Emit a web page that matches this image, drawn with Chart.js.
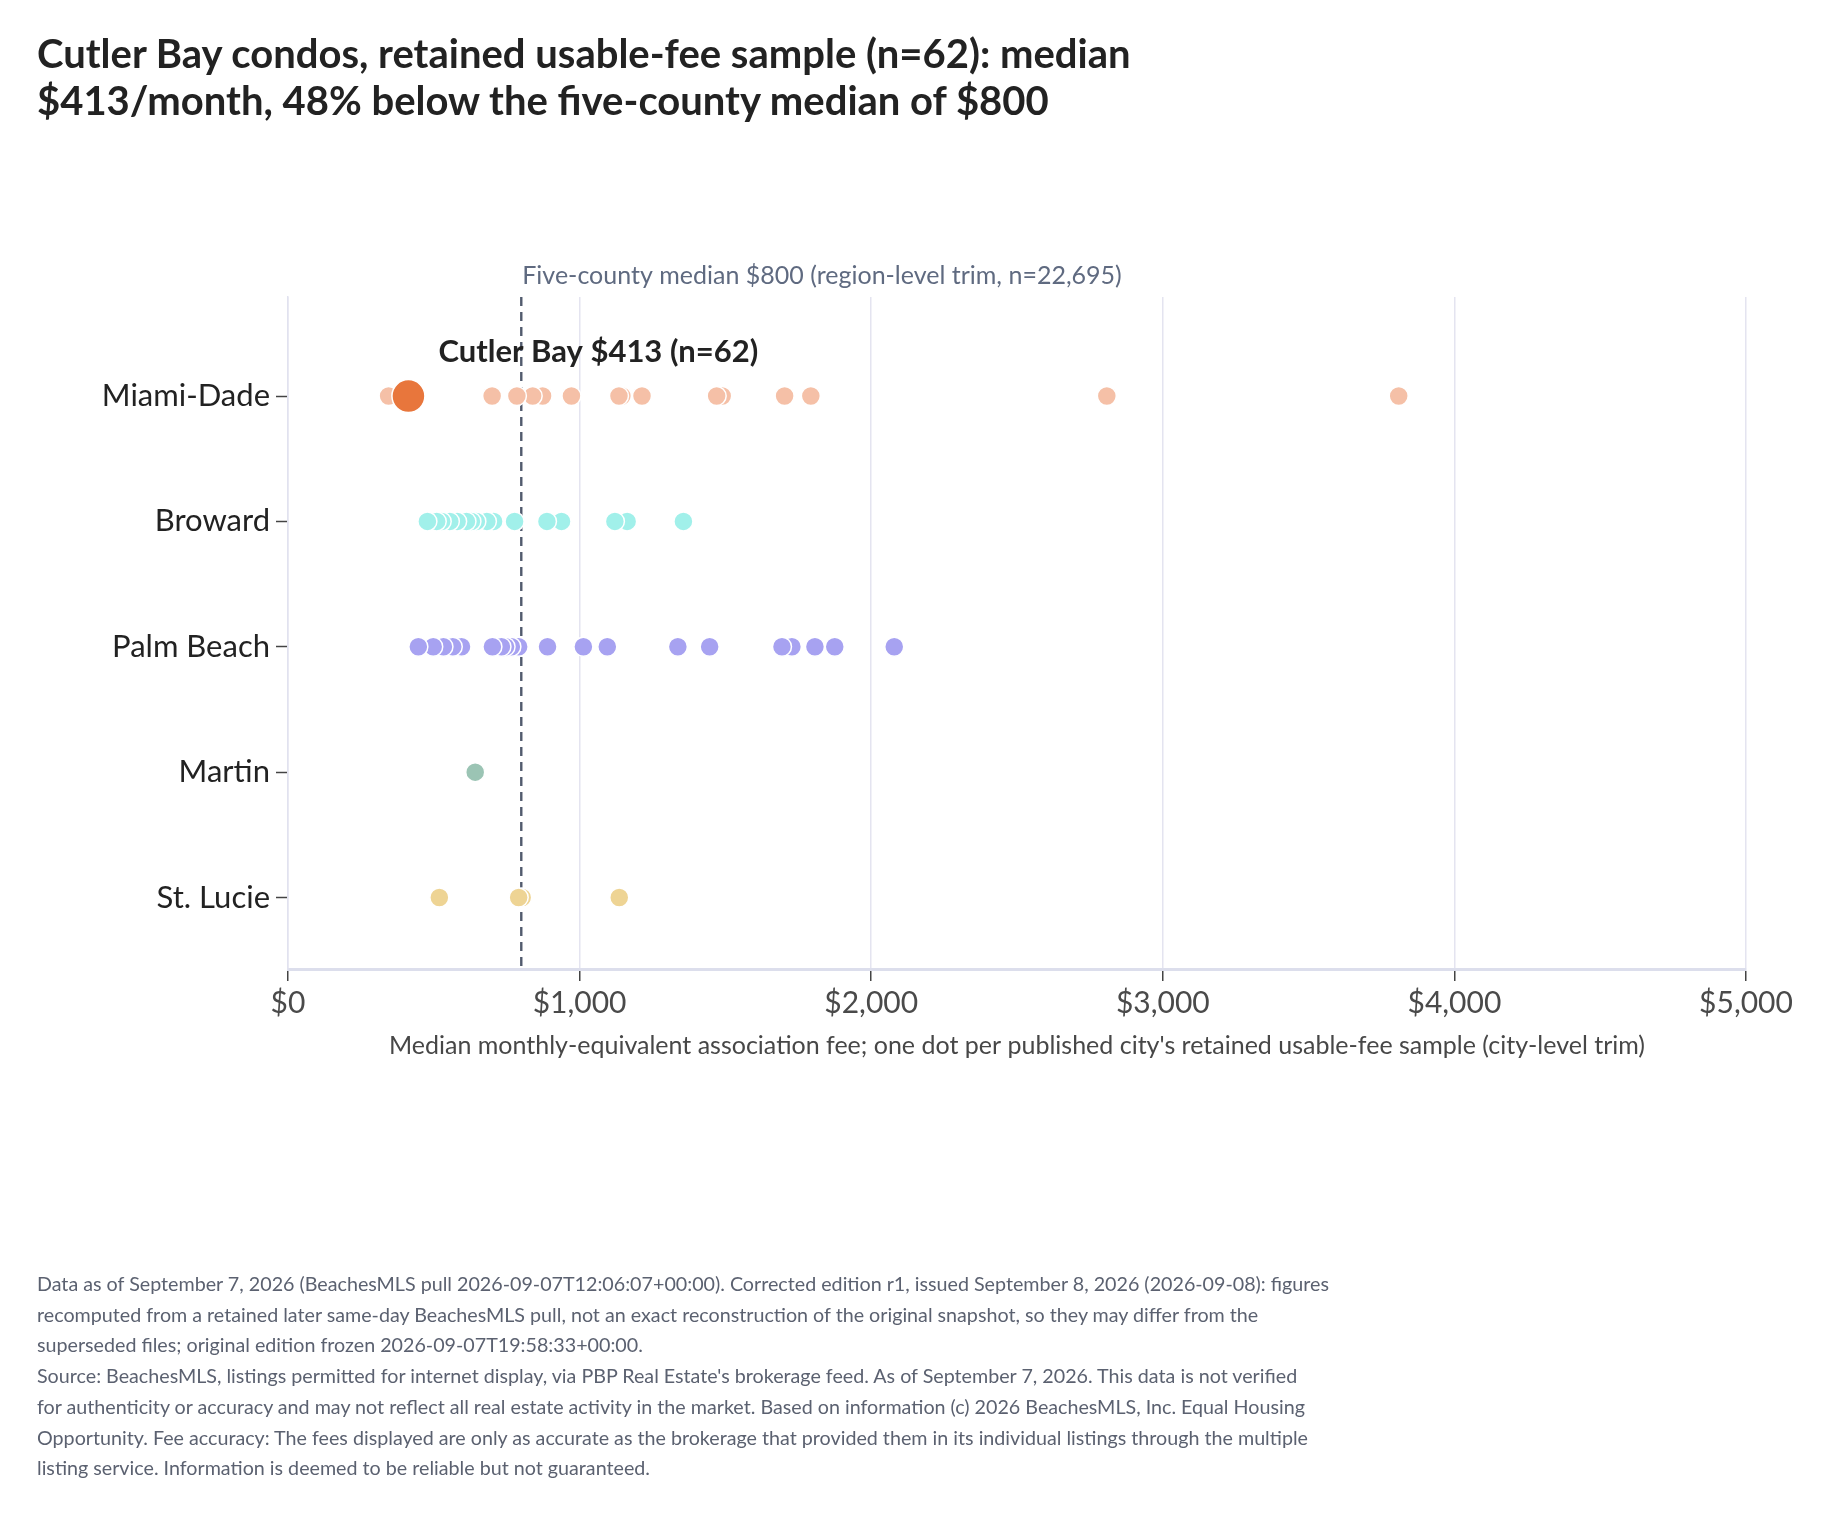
<!DOCTYPE html>
<html>
<head>
<meta charset="utf-8">
<script src="https://cdn.jsdelivr.net/npm/chart.js@4.4.1/dist/chart.umd.min.js"></script>
<style>
  html, body { margin: 0; padding: 0; background: #fff; }
  body { width: 1830px; height: 1517px; position: relative; overflow: hidden; font-family: Lato, 'Noto Sans', sans-serif; }
  #wrap { position: absolute; left: 0; top: 0; width: 1830px; height: 1517px; }
  #title { position: absolute; left: 37px; top: 30px; font-size: 40px; line-height: 47px; font-weight: 700; color: #222; white-space: nowrap; }
  #footer { position: absolute; left: 37px; top: 1269px; font-size: 19.7px; line-height: 30.7px; color: #5b6170; white-space: nowrap; }
</style>
</head>
<body>
<div id="wrap"><canvas id="chart" width="1830" height="1517"></canvas></div>
<div id="title">Cutler Bay condos, retained usable-fee sample (n=62): median<br>$413/month, 48% below the five-county median of $800</div>
<div id="footer">
Data as of September 7, 2026 (BeachesMLS pull 2026-09-07T12:06:07+00:00). Corrected edition r1, issued September 8, 2026 (2026-09-08): figures<br>
recomputed from a retained later same-day BeachesMLS pull, not an exact reconstruction of the original snapshot, so they may differ from the<br>
superseded files; original edition frozen 2026-09-07T19:58:33+00:00.<br>
Source: BeachesMLS, listings permitted for internet display, via PBP Real Estate's brokerage feed. As of September 7, 2026. This data is not verified<br>
for authenticity or accuracy and may not reflect all real estate activity in the market. Based on information (c) 2026 BeachesMLS, Inc. Equal Housing<br>
Opportunity. Fee accuracy: The fees displayed are only as accurate as the brokerage that provided them in its individual listings through the multiple<br>
listing service. Information is deemed to be reliable but not guaranteed.
</div>
<script>
// counties, top to bottom
const counties = ['Miami-Dade', 'Broward', 'Palm Beach', 'Martin', 'St. Lucie'];

// one value per published city (median monthly fee, $)
const miamiDade = [345, 413, 700, 785, 839, 873, 972, 1135, 1145, 1214, 1470, 1489, 1703, 1793, 2808, 3809];
const broward = [478, 510, 527, 555, 580, 612, 629, 646, 682, 705, 777, 888, 938, 1121, 1163, 1356];
const palmBeach = [447, 498, 533, 565, 595, 701, 732, 746, 766, 791, 890, 1013, 1095, 1337, 1446, 1694, 1728, 1807, 1875, 2079];
const martin = [642];
const stLucie = [519, 791, 803, 1136];

const countyColors = ['#f5c0a7', '#a1f0ea', '#a7a2f1', '#9bc4b4', '#eed494'];

// highlighted city and reference
const cutlerBay = 413;
const cutlerBayLabel = 'Cutler Bay $413 (n=62)';
const regionMedian = 800;
const regionLabel = 'Five-county median $800 (region-level trim, n=22,695)';

const xTicks = [0, 1000, 2000, 3000, 4000, 5000];
const xTitle = "Median monthly-equivalent association fee; one dot per published city's retained usable-fee sample (city-level trim)";

const FONT = 'Lato, "Noto Sans", sans-serif';

// Chart.js paints lower dataset indexes on top, so the highlight goes first
const datasets = [{
  label: 'Cutler Bay',
  data: [{ x: cutlerBay, y: 0 }],
  backgroundColor: '#e8763c',
  borderColor: '#ffffff',
  borderWidth: 1.5,
  pointRadius: 16.5,
  pointHoverRadius: 16.5
}];
[miamiDade, broward, palmBeach, martin, stLucie].forEach((vals, i) => {
  datasets.push({
    label: counties[i],
    // left dots sit on top of their right neighbours
    data: vals.slice().reverse().map(v => ({ x: v, y: i })),
    backgroundColor: countyColors[i],
    borderColor: '#ffffff',
    borderWidth: 1.5,
    pointRadius: 9.5,
    pointHoverRadius: 9.5
  });
});

const refLines = {
  id: 'refLines',
  beforeDatasetsDraw(chart) {
    const { ctx, chartArea, scales } = chart;
    const x = scales.x.getPixelForValue(regionMedian);
    ctx.save();
    ctx.strokeStyle = '#525b6e';
    ctx.lineWidth = 2.4;
    ctx.setLineDash([9, 6]);
    ctx.beginPath();
    ctx.moveTo(x, chartArea.top);
    ctx.lineTo(x, chartArea.bottom);
    ctx.stroke();
    ctx.restore();
  },
  afterDatasetsDraw(chart) {
    const { ctx, chartArea, scales } = chart;
    ctx.save();
    ctx.textBaseline = 'middle';
    ctx.textAlign = 'left';
    ctx.fillStyle = '#5f6a80';
    ctx.font = '25px ' + FONT;
    ctx.fillText(regionLabel, scales.x.getPixelForValue(regionMedian) + 1, chartArea.top - 21);
    ctx.fillStyle = '#222';
    ctx.font = 'bold 31px ' + FONT;
    ctx.fillText(cutlerBayLabel, scales.x.getPixelForValue(cutlerBay) + 30, scales.y.getPixelForValue(0) - 44);
    ctx.restore();
  }
};

new Chart(document.getElementById('chart'), {
  type: 'scatter',
  data: { datasets },
  plugins: [refLines],
  options: {
    responsive: false,
    devicePixelRatio: 1,
    animation: false,
    layout: { padding: { left: 0, right: 84, top: 297, bottom: 456 } },
    plugins: { legend: { display: false }, tooltip: { enabled: false } },
    scales: {
      x: {
        type: 'linear',
        min: 0,
        max: 5000,
        afterBuildTicks: s => { s.ticks = xTicks.map(v => ({ value: v })); },
        afterFit: s => { s.height = 92; },
        ticks: {
          callback: v => '$' + Number(v).toLocaleString('en-US'),
          font: { family: FONT, size: 30 },
          color: '#4a4a4a',
          padding: 4,
          maxRotation: 0
        },
        grid: { color: '#e4e4f0', lineWidth: 1.5, tickColor: '#444', tickLength: 12, tickWidth: 1.5 },
        border: { color: '#dcdeec', width: 3 },
        title: {
          display: true,
          text: xTitle,
          font: { family: FONT, size: 25 },
          color: '#474747',
          padding: 0
        }
      },
      y: {
        type: 'linear',
        reverse: true,
        min: -0.79,
        max: 4.57,
        afterBuildTicks: s => { s.ticks = counties.map((c, i) => ({ value: i })); },
        afterFit: s => { s.width = 288; },
        ticks: {
          callback: v => counties[v],
          font: { family: FONT, size: 31 },
          color: '#222',
          padding: 6
        },
        grid: { drawOnChartArea: false, drawTicks: true, tickColor: '#444', tickLength: 12, tickWidth: 1.5 },
        border: { color: '#e1e2ef', width: 1.5 }
      }
    }
  }
});
</script>
</body>
</html>
